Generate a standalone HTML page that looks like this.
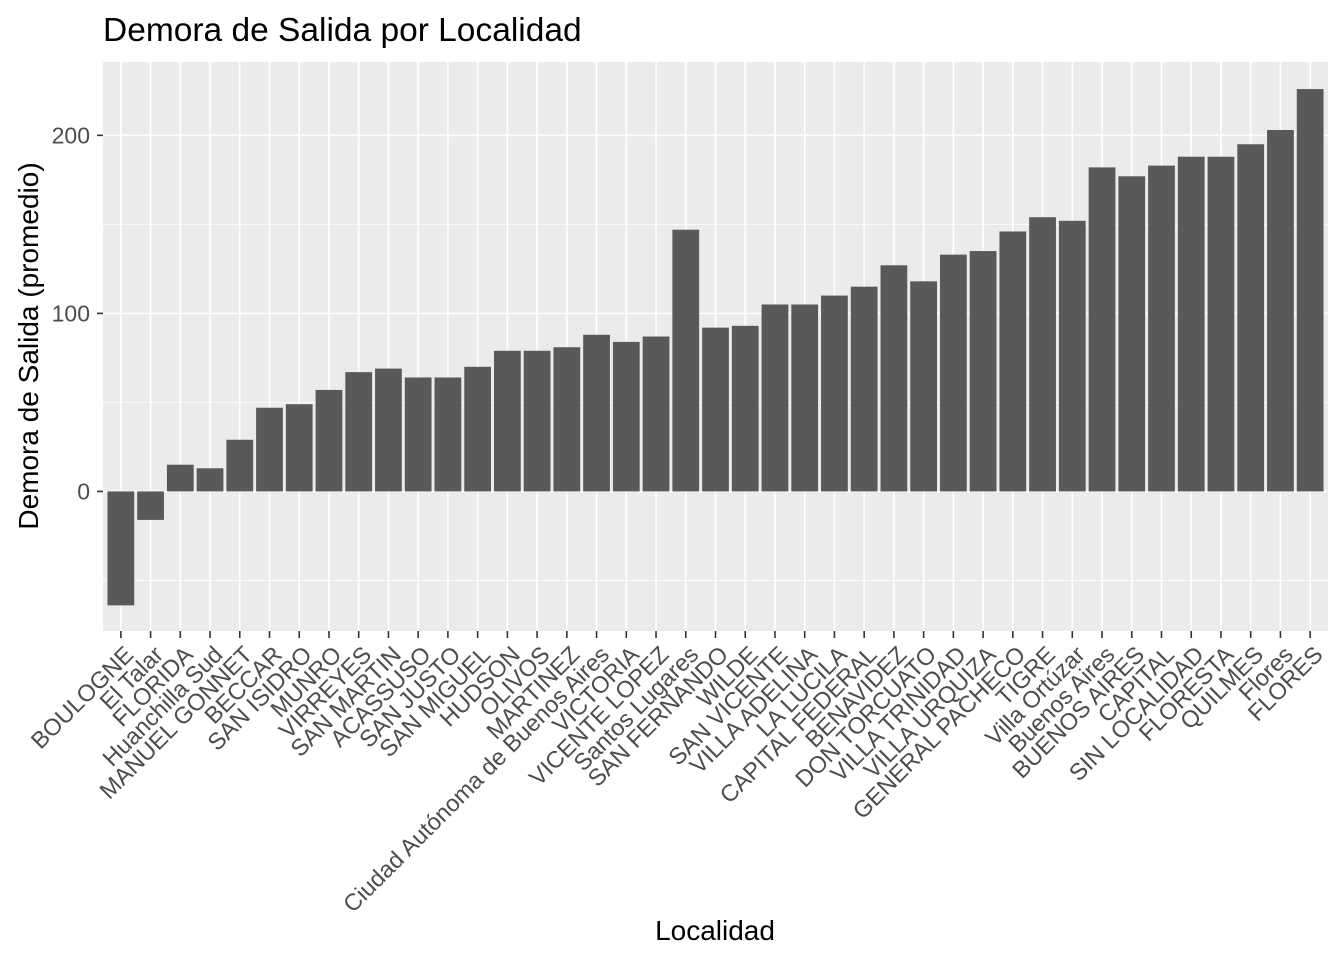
<!DOCTYPE html>
<html><head><meta charset="utf-8"><style>
body{margin:0;background:#fff}
svg text{font-family:"Liberation Sans",Arial,sans-serif}
</style></head><body>
<svg id="c" width="1344" height="960" xmlns="http://www.w3.org/2000/svg">
<text x="103" y="41" font-size="33.5" fill="#000">Demora de Salida por Localidad</text>
<text x="0" y="0" font-size="28" fill="#000" text-anchor="middle" transform="translate(38,346) rotate(-90)">Demora de Salida (promedio)</text>
<text x="715" y="940" font-size="28" fill="#000" text-anchor="middle">Localidad</text>
</svg>
<script>
const categories=["BOULOGNE","El Talar","FLORIDA","Huanchilla Sud","MANUEL GONNET","BECCAR","SAN ISIDRO","MUNRO","VIRREYES","SAN MARTIN","ACASSUSO","SAN JUSTO","SAN MIGUEL","HUDSON","OLIVOS","MARTINEZ","Ciudad Autónoma de Buenos Aires","VICTORIA","VICENTE LOPEZ","Santos Lugares","SAN FERNANDO","WILDE","SAN VICENTE","VILLA ADELINA","LA LUCILA","CAPITAL FEDERAL","BENAVIDEZ","DON TORCUATO","VILLA TRINIDAD","VILLA URQUIZA","GENERAL PACHECO","TIGRE","Villa Ortúzar","Buenos Aires","BUENOS AIRES","CAPITAL","SIN LOCALIDAD","FLORESTA","QUILMES","Flores","FLORES"];
const values=[-64,-16,15,13,29,47,49,57,67,69,64,64,70,79,79,81,88,84,87,147,92,93,105,105,110,115,127,118,133,135,146,154,152,182,177,183,188,188,195,203,226];
const yTicks=[0,100,200];
const yMinor=[-50,50,150];
const svg=document.getElementById('c');
const NS='http://www.w3.org/2000/svg';
const L=103,R=1328,T=62,B=631;
const yMin=-78.4,yMax=241.2;
const y=v=>B-(v-yMin)/(yMax-yMin)*(B-T);
const step=(R-L)/(categories.length+0.2);
const x=i=>L+step*(0.6+i);
function mk(tag,a,parent){const e=document.createElementNS(NS,tag);for(const k in a)e.setAttribute(k,a[k]);(parent||svg).appendChild(e);return e;}
const panel=mk('rect',{x:L,y:T,width:R-L,height:B-T,fill:'#ebebeb'});


yMinor.forEach(v=>{const l=mk('line',{x1:L,x2:R,y1:y(v),y2:y(v),stroke:'#fff','stroke-width':0.8});

});
yTicks.forEach(v=>{const l=mk('line',{x1:L,x2:R,y1:y(v),y2:y(v),stroke:'#fff','stroke-width':1.6});


const tk=mk('line',{x1:L-6,x2:L,y1:y(v),y2:y(v),stroke:'#333','stroke-width':1.6});


const t=mk('text',{x:L-13,y:y(v)+8,'text-anchor':'end','font-size':23,fill:'#4d4d4d'});t.textContent=v;

});
categories.forEach((c,i)=>{const cx=x(i);
const g=mk('line',{x1:cx,x2:cx,y1:T,y2:B,stroke:'#fff','stroke-width':1.6});

});
const bw=step*0.9;
categories.forEach((c,i)=>{const cx=x(i),v=values[i];
const top=Math.min(y(v),y(0)),h=Math.abs(y(v)-y(0));
const b=mk('rect',{x:cx-bw/2,y:top,width:bw,height:h,fill:'#595959'});


const tk=mk('line',{x1:cx,x2:cx,y1:B,y2:B+7,stroke:'#333','stroke-width':1.6});


const t=mk('text',{'text-anchor':'end','font-size':23.5,fill:'#4d4d4d',transform:`translate(${cx+14},${B+25}) rotate(-45)`});t.textContent=c;

});
</script>
</body></html>
